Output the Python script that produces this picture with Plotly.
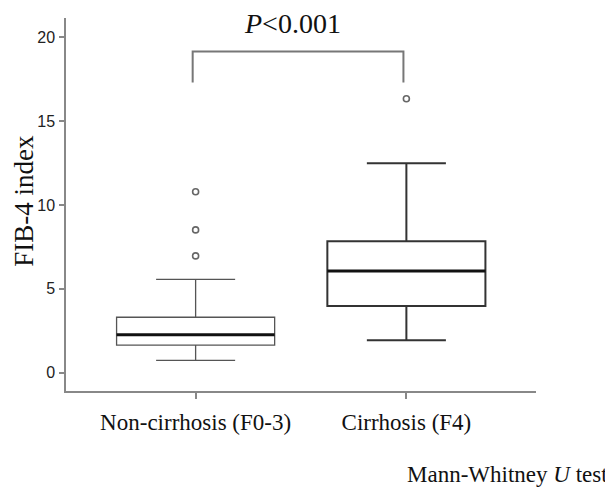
import plotly.graph_objects as go

# ---- data ----
categories = ["Non-cirrhosis (F0-3)", "Cirrhosis (F4)"]
positions = [0, 1]
q1 = [1.64, 3.97]
median = [2.26, 6.06]
q3 = [3.30, 7.83]
lower_whisker = [0.73, 1.92]
upper_whisker = [5.56, 12.49]
outlier_x = [0, 0, 0, 1]
outlier_y = [6.96, 8.51, 10.79, 16.33]
y_ticks = [0, 5, 10, 15, 20]
bracket_low = 17.30
bracket_high = 19.15
p_label = "<i>P</i><0.001"
test_label = "Mann-Whitney <i>U</i> test"
y_title = "FIB-4 index"

BOX_W = 0.75
BRACKET_DX = -0.014
box_line_colors = ["#555555", "#333333"]
box_line_widths = [1.3, 2.0]

fig = go.Figure()
for i in range(2):
    fig.add_trace(go.Box(
        x=[positions[i]], q1=[q1[i]], median=[median[i]], q3=[q3[i]],
        lowerfence=[lower_whisker[i]], upperfence=[upper_whisker[i]],
        width=BOX_W, whiskerwidth=0.5, fillcolor="white",
        line=dict(color=box_line_colors[i], width=box_line_widths[i]),
        boxpoints=False, showlegend=False, hoverinfo="skip",
    ))
    # thick median line
    fig.add_trace(go.Scatter(
        x=[positions[i] - BOX_W / 2, positions[i] + BOX_W / 2],
        y=[median[i], median[i]], mode="lines",
        line=dict(color="#111111", width=3), showlegend=False, hoverinfo="skip",
    ))

fig.add_trace(go.Scatter(
    x=outlier_x, y=outlier_y, mode="markers",
    marker=dict(symbol="circle-open", size=6, color="#666666", line=dict(width=1.6)),
    showlegend=False, hoverinfo="skip",
))

# significance bracket
bx0 = positions[0] + BRACKET_DX
bx1 = positions[1] + BRACKET_DX
fig.add_trace(go.Scatter(
    x=[bx0, bx0, bx1, bx1],
    y=[bracket_low, bracket_high, bracket_high, bracket_low],
    mode="lines", line=dict(color="#777777", width=2),
    showlegend=False, hoverinfo="skip",
))

# page body has an 8px margin, so the figure is slightly smaller
W, H = 605, 482
L, R, T, B = 58, 77, 10, 99
pw = W - L - R
ph = H - T - B

fig.add_annotation(x=0.46, y=20.8, xref="x", yref="y", text=p_label,
                   showarrow=False, font=dict(family="Liberation Serif", size=28, color="#111"),
                   xanchor="center", yanchor="middle")
fig.add_annotation(x=(602 - L) / pw, y=(H - B - 466) / ph, xref="paper", yref="paper",
                   text=test_label, showarrow=False,
                   font=dict(family="Liberation Serif", size=23, color="#111"),
                   xanchor="right", yanchor="middle")
fig.add_annotation(x=(16 - L) / pw, y=0.51, xref="paper", yref="paper", text=y_title,
                   textangle=-90, showarrow=False,
                   font=dict(family="Liberation Serif", size=27, color="#111"),
                   xanchor="center", yanchor="middle")

fig.update_layout(
    width=W, height=H,
    margin=dict(l=L, r=R, t=T, b=B),
    plot_bgcolor="white", paper_bgcolor="white",
    xaxis=dict(
        range=[-0.615, 1.615], tickmode="array", tickvals=positions, ticktext=categories,
        showline=True, linecolor="#888888", linewidth=1.5, ticks="outside", ticklen=6,
        tickcolor="#888888", tickwidth=1.5, showgrid=False, zeroline=False,
        tickfont=dict(family="Liberation Serif", size=23, color="#111"),
        ticklabelstandoff=4,
    ),
    yaxis=dict(
        range=[-1.10, 21.15], tickmode="array", tickvals=y_ticks,
        showline=True, linecolor="#888888", linewidth=1.5, ticks="outside", ticklen=5,
        tickcolor="#888888", tickwidth=1.5, showgrid=False, zeroline=False,
        tickfont=dict(family="Liberation Sans", size=16, color="#222"),
        ticklabelstandoff=1,
    ),
)

fig.write_html("out.html")
